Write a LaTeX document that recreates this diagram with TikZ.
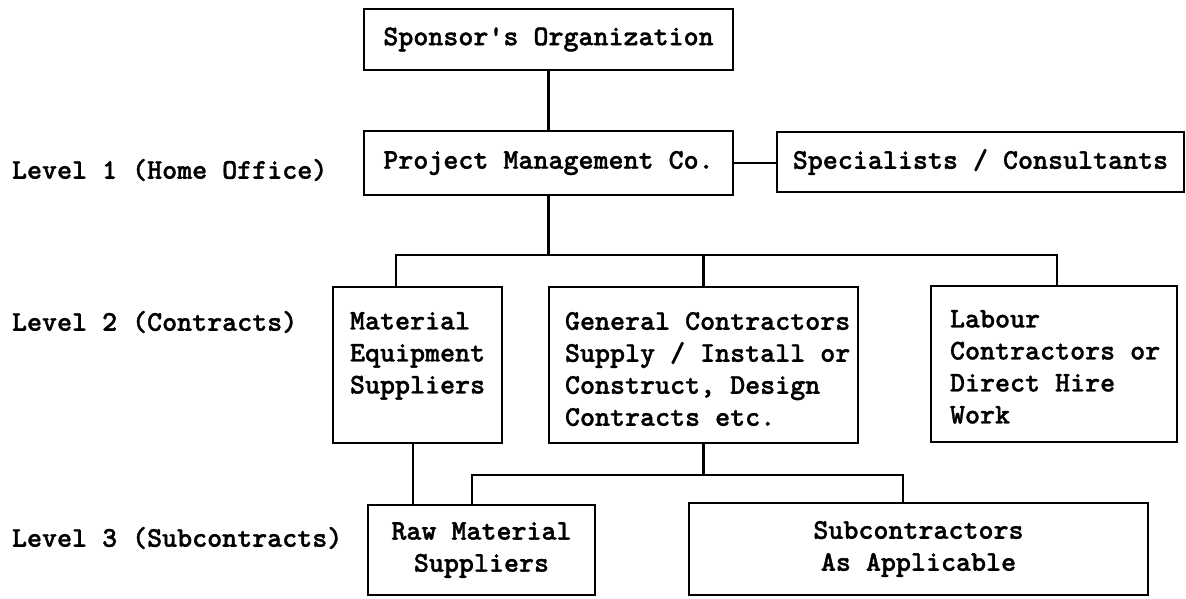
\documentclass[tikz,border=0pt]{standalone}
\usepackage{fontspec}
\newfontfamily\orgfont{lmmonolt10-bold.otf}[FakeBold=1.2]
\begin{document}
\begin{tikzpicture}[x=1pt,y=-1pt,
  every node/.style={inner sep=0pt,outer sep=0pt,font=\orgfont\fontsize{28.6}{32}\selectfont},
  orgbox/.style={draw=black,line width=2.8pt,rectangle},
  boxtext/.style={anchor=north west,align=left},
  conn/.style={draw=black,line width=2.1pt},
  lvl/.style={anchor=west}]
\useasboundingbox[fill=white] (0,0) rectangle (1186,599);
% boxes
\node[orgbox,minimum width=369,minimum height=61] (spons) at (548.5,39.5) {Sponsor's Organization};
\node[orgbox,minimum width=369,minimum height=64] (pm) at (548.5,163) {Project Management Co.};
\node[orgbox,minimum width=407,minimum height=60] (spec) at (980.5,162) {Specialists / Consultants};
\node[orgbox,minimum width=169,minimum height=156] (mat) at (417.5,365) {};
\node[orgbox,minimum width=309,minimum height=156] (gen) at (703.5,365) {};
\node[orgbox,minimum width=246,minimum height=156] (lab) at (1054,364) {};
\node[orgbox,minimum width=227,minimum height=90,align=center] (raw) at (481.5,550) {Raw Material\\Suppliers};
\node[orgbox,minimum width=459,minimum height=92,align=center] (sub) at (918.5,549) {Subcontractors\\As Applicable};
% box texts
\node[boxtext] (matt) at (350,312) {Material\\Equipment\\Suppliers};
\node[boxtext] (gent) at (565,312) {General Contractors\\Supply / Install or\\Construct, Design\\Contracts etc.};
\node[boxtext] (labt) at (950,310) {Labour\\Contractors or\\Direct Hire\\Work};
% level labels
\node[lvl] (l1) at (12,170) {Level 1 (Home Office)};
\node[lvl] (l2) at (12,322) {Level 2 (Contracts)};
\node[lvl] (l3) at (12,538) {Level 3 (Subcontracts)};
% connectors
\coordinate (b2l) at (396,255);
\coordinate (b2r) at (1057,255);
\coordinate (mrx) at (413,470);
\coordinate (b3l) at (472,475);
\coordinate (b3r) at (903,475);
\draw[conn] (spons.south) -- (pm.north);
\draw[conn] (pm.east) -- (spec.west |- pm.east);
\draw[conn] (pm.south) -- (pm.south |- b2l);
\draw[conn] (mat.north -| b2l) -- (b2l) -- (b2r) -- (lab.north -| b2r);
\draw[conn] (gen.north) -- (gen.north |- b2l);
\draw[conn] (mat.south -| mrx) -- (raw.north -| mrx);
\draw[conn] (gen.south) -- (gen.south |- b3l);
\draw[conn] (raw.north -| b3l) -- (b3l) -- (b3r) -- (sub.north -| b3r);
\end{tikzpicture}
\end{document}
